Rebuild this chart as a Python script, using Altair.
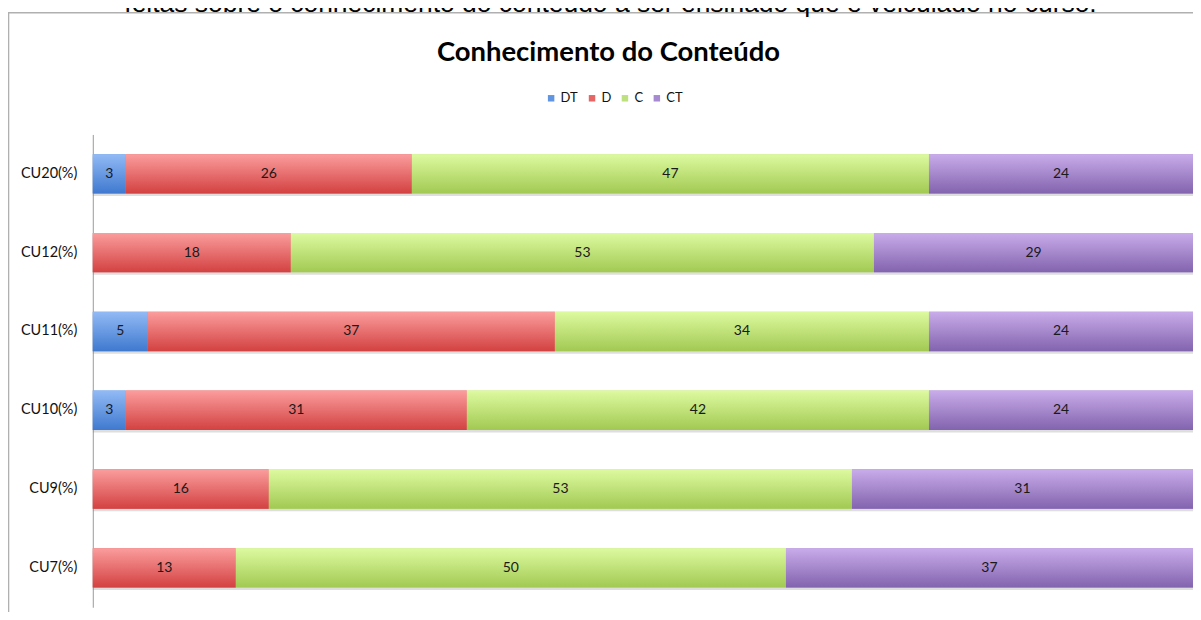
import altair as alt
import pandas as pd

# ---- data ----
rows = ["CU20(%)", "CU12(%)", "CU11(%)", "CU10(%)", "CU9(%)", "CU7(%)"]
levels = ["DT", "D", "C", "CT"]
dt_vals = [3, 0, 5, 3, 0, 0]
d_vals = [26, 18, 37, 31, 16, 13]
c_vals = [47, 53, 34, 42, 53, 50]
ct_vals = [24, 29, 24, 24, 31, 37]

title_text = "Conhecimento do Conteúdo"
caption_text = "feitas sobre o conhecimento do conteúdo a ser ensinado que é veiculado no curso."

solid_colors = ["#6195e2", "#e66565", "#bfe07e", "#a689d0"]
top_colors = ["#92baf5", "#fb9d9d", "#ddfaa0", "#c9acea"]
bottom_colors = ["#3f79cf", "#d34141", "#a2c952", "#8263ae"]

# ---- table ----
records = []
for i, r in enumerate(rows):
    for j, (lev, vals) in enumerate(zip(levels, [dt_vals, d_vals, c_vals, ct_vals])):
        records.append({"row": r, "level": lev, "order": j, "value": vals[i]})
df = pd.DataFrame(records)

W, H = 1103, 474
PAD_L, PAD_T, PAD_R, PAD_B = 85, 126, 0, 4
FONT = "Lato"

base = (
    alt.Chart(df)
    .transform_filter("datum.value > 0")
    .transform_stack(
        stack="value",
        groupby=["row"],
        as_=["x0", "x1"],
        sort=[alt.SortField("order", order="ascending")],
    )
    .transform_calculate(mid="(datum.x0 + datum.x1) / 2")
)

xscale = alt.Scale(domain=[0, 100], nice=False, zero=True)
y_enc = alt.Y(
    "row:N",
    sort=rows,
    scale=alt.Scale(paddingInner=0.5, paddingOuter=0.25),
    axis=alt.Axis(
        title=None,
        ticks=False,
        domain=True,
        domainColor="#9a9a9a",
        domainWidth=1,
        labelPadding=16,
        labelFont=FONT,
        labelFontSize=14.5,
        labelColor="#111111",
        grid=False,
    ),
)
x_enc = alt.X("x0:Q", scale=xscale, axis=None)
x2_enc = alt.X2("x1:Q")

shadow = base.mark_bar(color="#7a7a7a", opacity=0.25, yOffset=2.5).encode(
    x=x_enc, x2=x2_enc, y=y_enc
)

solid = base.mark_bar().encode(
    x=x_enc,
    x2=x2_enc,
    y=y_enc,
    color=alt.Color(
        "level:N",
        scale=alt.Scale(domain=levels, range=solid_colors),
        sort=levels,
        legend=alt.Legend(
            orient="none",
            legendX=453,
            legendY=-43,
            direction="horizontal",
            title=None,
            symbolType="square",
            symbolSize=42,
            symbolStrokeWidth=0,
            labelFont=FONT,
            labelFontSize=13,
            labelColor="#111111",
            labelOffset=3,
            columnPadding=7,
        ),
    ),
)

grad_layers = []
for lev, tc, bc in zip(levels, top_colors, bottom_colors):
    grad = alt.Gradient(
        gradient="linear",
        stops=[
            alt.GradientStop(color=tc, offset=0),
            alt.GradientStop(color=bc, offset=1),
        ],
        x1=0, x2=0, y1=0, y2=1,
    )
    grad_layers.append(
        base.transform_filter(alt.datum.level == lev)
        .mark_bar(color=grad)
        .encode(x=x_enc, x2=x2_enc, y=y_enc)
    )

labels = base.mark_text(
    font=FONT, fontSize=14, color="#1a1a1a", baseline="middle", align="center"
).encode(x=alt.X("mid:Q", scale=xscale, axis=None), y=y_enc, text="value:Q")

deco_df = pd.DataFrame({"title": [title_text], "caption": [caption_text]})

frame = alt.Chart(deco_df).mark_rect(
    fillOpacity=0, stroke="#b0b0b0", strokeWidth=1.6
).encode(
    x=alt.value(-PAD_L + 0.5),
    x2=alt.value(W + 40),
    y=alt.value(-PAD_T + 4),
    y2=alt.value(H + 40),
)

title = alt.Chart(deco_df).mark_text(
    font=FONT, fontSize=27.5, fontWeight="bold", color="#000000",
    align="center", baseline="alphabetic",
).encode(x=alt.value(517), y=alt.value(-74), text="title:N")

caption = alt.Chart(deco_df).mark_text(
    font="Liberation Sans", fontSize=26.5, color="#000000",
    align="center", baseline="alphabetic",
).encode(x=alt.value(519), y=alt.value(-123), text="caption:N")

chart = (
    alt.layer(frame, caption, title, shadow, solid, *grad_layers, labels)
    .properties(
        width=W,
        height=H,
        autosize=alt.AutoSizeParams(type="none"),
        padding={"left": PAD_L, "top": PAD_T, "right": PAD_R, "bottom": PAD_B},
        background="#ffffff",
    )
    .configure_view(stroke=None)
)

chart.save("out.html", embed_options={"renderer": "svg", "actions": False})
